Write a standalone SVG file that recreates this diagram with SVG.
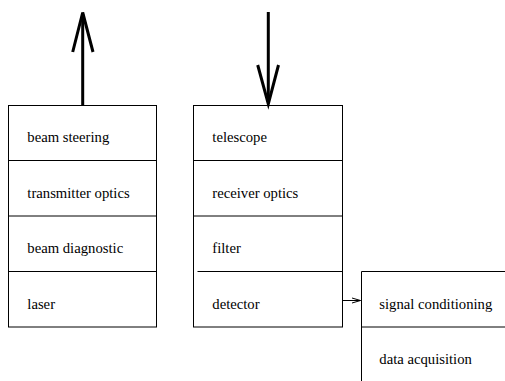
<svg xmlns="http://www.w3.org/2000/svg" width="505" height="381" viewBox="0 0 505 381">
<defs>
<style>
.box{fill:none;stroke:#000;stroke-width:1}
.div{stroke:#000;stroke-width:1}
.big{stroke:#000;stroke-width:3;fill:none}
.small{stroke:#000;stroke-width:1;fill:none}
</style>
</defs>
<rect width="505" height="381" fill="#fff"/>
<g id="transmitter" font-family="'Liberation Serif', 'DejaVu Serif', serif" font-size="14.7">
<rect class="box" x="8.5" y="105.5" width="148" height="221.5"/>
<line class="div" x1="8.5" y1="160.5" x2="156.5" y2="160.5"/>
<line class="div" x1="8.5" y1="216" x2="156.5" y2="216"/>
<line class="div" x1="8.5" y1="271.5" x2="156.5" y2="271.5"/>
<text x="27.3" y="142">beam steering</text>
<text x="27.3" y="197.5">transmitter optics</text>
<text x="27.3" y="253">beam diagnostic</text>
<text x="27.3" y="308.5">laser</text>
</g>
<g id="receiver" font-family="'Liberation Serif', 'DejaVu Serif', serif" font-size="14.7">
<rect class="box" x="193.5" y="105.5" width="149" height="221.5"/>
<line class="div" x1="193.5" y1="160.5" x2="342.5" y2="160.5"/>
<line class="div" x1="193.5" y1="216" x2="342.5" y2="216"/>
<line class="div" x1="197.5" y1="271.5" x2="342.5" y2="271.5"/>
<text x="212.3" y="142">telescope</text>
<text x="212.3" y="197.5">receiver optics</text>
<text x="212.3" y="253">filter</text>
<text x="212.3" y="308.5">detector</text>
</g>
<g id="processing" font-family="'Liberation Serif', 'DejaVu Serif', serif" font-size="14.7">
<path class="box" d="M510 271.5H361.5V390"/>
<line class="div" x1="361.5" y1="327" x2="510" y2="327"/>
<text x="379.3" y="308.5">signal conditioning</text>
<text x="379.3" y="364.3">data acquisition</text>
</g>
<g id="connectors">
<line class="big" x1="82.7" y1="105" x2="82.7" y2="14"/>
<path class="big" d="M72.7 52L82.7 12.5L93 52"/>
<line class="big" x1="268.3" y1="12" x2="268.3" y2="102"/>
<path class="big" d="M257.7 65L268.3 104L278.5 65"/>
<line class="small" x1="342.5" y1="300.5" x2="360.5" y2="300.5"/>
<path class="small" d="M352 298L360.5 300.5L352 303"/>
</g>
</svg>
